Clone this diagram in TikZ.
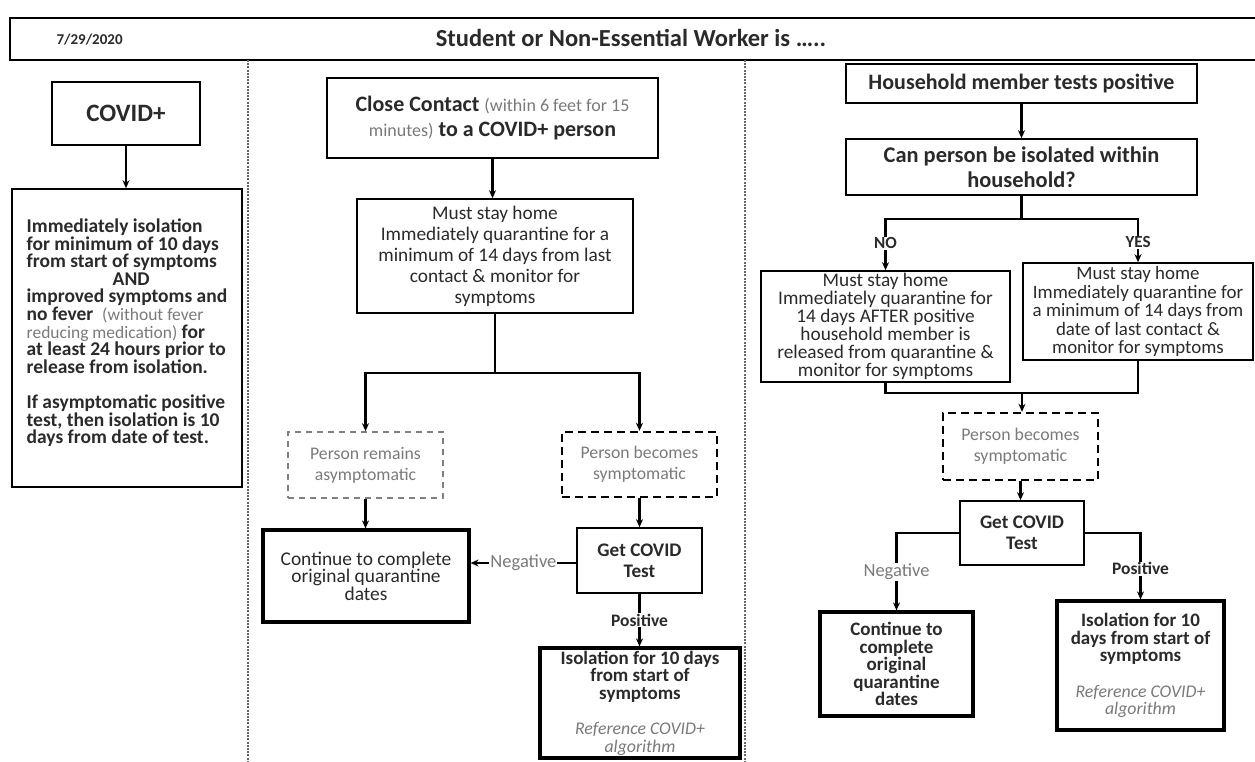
\documentclass[tikz,border=0pt]{standalone}
\usepackage{fontspec}
\setmainfont{Carlito}
\usetikzlibrary{arrows.meta}
\definecolor{txt}{HTML}{2A2A2A}
\definecolor{lgray}{HTML}{7A7A7A}
\begin{document}
\begin{tikzpicture}[x=1pt,y=-1pt,
  box/.style={draw, line width=1.6pt, fill=white, align=center, inner sep=1pt, text=txt},
  thickbox/.style={box, line width=3.2pt},
  dashbox/.style={box, dash pattern=on 8pt off 5pt, line width=2.4pt, text=lgray},
  dashboxlight/.style={box, dash pattern=on 6pt off 5pt, line width=1.6pt, draw=gray, text=lgray},
  arr/.style={-{Stealth[length=8pt,width=7pt]}, line width=2.2pt},
  conn/.style={line width=2.2pt},
  sep/.style={draw=gray!80!black, line width=1.2pt, dash pattern=on 2pt off 1.2pt},
  lab/.style={fill=white, inner sep=1pt},
  fneg/.style={font=\fontsize{18.5}{20}\selectfont, text=lgray},
  fpos/.style={font=\fontsize{17.5}{20}\selectfont\bfseries, text=txt},
]
\useasboundingbox (0,0) rectangle (1255,761);

% header
\node[box, minimum width=1252, minimum height=42] (hdr) at (636,39) {};
\node[text=txt, font=\fontsize{15}{17}\selectfont\bfseries, anchor=west] (date) at (53,40) {7/29/2020};
\node[text=txt, font=\fontsize{24.5}{26}\selectfont\bfseries] (title) at (631,38) {Student or Non-Essential Worker is …..};

% separators
\coordinate (s1t) at (248,60); \coordinate (s1b) at (248,761);
\coordinate (s2t) at (745,60); \coordinate (s2b) at (745,761);
\draw[sep] (s1t) -- (s1b);
\draw[sep] (s2t) -- (s2b);

% left column
\node[box, minimum width=148, minimum height=63, font=\fontsize{25}{27}\selectfont\bfseries] (covid) at (126,113.5) {COVID+};
\node[box, minimum width=230, minimum height=298, align=left, font=\fontsize{19.5}{17.6}\selectfont\bfseries] (iso1) at (127,338) {%
Immediately isolation\\
for minimum of 10 days\\
from start of symptoms\\
\hspace*{86pt}AND\\
improved symptoms and\\
no fever~ {\mdseries\color{lgray}\fontsize{17.5}{17.6}\selectfont(without fever}\\
{\mdseries\color{lgray}\fontsize{17.5}{17.6}\selectfont reducing medication)} for\\
at least 24 hours prior to\\
release from isolation.\\[17.6pt]
If asymptomatic positive\\
test, then isolation is 10\\
days from date of test.\\[-4pt]\mbox{}};
\draw[arr] (covid.south) -- (covid.south |- iso1.north);

% middle column
\node[box, minimum width=331, minimum height=80, font=\fontsize{22}{25}\selectfont\bfseries] (cc) at (492.5,118) {%
Close Contact {\mdseries\color{lgray}\fontsize{18}{25}\selectfont(within 6 feet for 15}\\
{\mdseries\color{lgray}\fontsize{18}{25}\selectfont minutes)} to a COVID+ person};
\node[box, minimum width=276, minimum height=114, font=\fontsize{19.3}{21}\selectfont] (msh) at (495,256) {%
Must stay home\\
Immediately quarantine for a\\
minimum of 14 days from last\\
contact \& monitor for\\
symptoms};
\node[dashboxlight, minimum width=155, minimum height=66, font=\fontsize{17.7}{21}\selectfont] (dash1) at (365.5,465) {Person remains\\asymptomatic};
\node[dashbox, minimum width=155, minimum height=65, font=\fontsize{17.7}{21}\selectfont] (dash2) at (639.5,464.5) {Person becomes\\symptomatic};
\node[thickbox, minimum width=206, minimum height=92, font=\fontsize{19.4}{17.5}\selectfont] (cont1) at (366,576) {Continue to complete\\original quarantine\\dates};
\node[box, minimum width=125, minimum height=65, font=\fontsize{19.2}{21}\selectfont\bfseries] (test1) at (639.5,560.5) {Get COVID\\Test};
\node[thickbox, minimum width=200, minimum height=110, font=\fontsize{19}{17.5}\selectfont\bfseries] (isol1) at (640,703) {%
Isolation for 10 days\\from start of\\symptoms\\[18pt]
{\mdseries\itshape\color{lgray}\fontsize{17.8}{15}\selectfont Reference COVID+}\\
{\mdseries\itshape\color{lgray}\fontsize{17.8}{15}\selectfont algorithm}};

\draw[arr] (cc.south) -- (cc.south |- msh.north);
\draw[arr] (msh.south) -- ++(0,59) -| (dash1.north);
\draw[arr] (msh.south) -- ++(0,59) -| (dash2.north);
\draw[arr] (dash1.south) -- (dash1.south |- cont1.north);
\draw[arr] (dash2.south) -- (dash2.south |- test1.north);
\draw[arr] ([yshift=-2.5pt]test1.west) -- node[lab, fneg] {Negative} ([yshift=-2.5pt]test1.west -| cont1.east);
\draw[arr] (test1.south) -- node[lab, fpos] {Positive} (test1.south |- isol1.north);

% right column
\node[box, minimum width=351, minimum height=39, font=\fontsize{22}{24}\selectfont\bfseries] (hh) at (1021.5,83.5) {Household member tests positive};
\node[box, minimum width=351, minimum height=56, font=\fontsize{22.4}{25}\selectfont\bfseries] (can) at (1021.5,167) {Can person be isolated within\\household?};
\node[box, minimum width=249, minimum height=111, font=\fontsize{19.3}{18}\selectfont] (no) at (885.5,326.5) {%
Must stay home\\
Immediately quarantine for\\
14 days AFTER positive\\
household member is\\
released from quarantine \&\\
monitor for symptoms};
\node[box, minimum width=230, minimum height=97, font=\fontsize{18.9}{18.5}\selectfont] (yes) at (1138,311.5) {%
Must stay home\\
Immediately quarantine for\\
a minimum of 14 days from\\
date of last contact \&\\
monitor for symptoms};
\node[dashbox, minimum width=155, minimum height=67, font=\fontsize{17.8}{21}\selectfont] (dash3) at (1020.5,446.5) {Person becomes\\symptomatic};
\node[box, minimum width=124, minimum height=64, font=\fontsize{19.2}{21}\selectfont\bfseries] (test2) at (1022,533) {Get COVID\\Test};
\node[thickbox, minimum width=153, minimum height=104, font=\fontsize{19}{17.5}\selectfont\bfseries] (cont2) at (896.5,664) {Continue to\\complete\\original\\quarantine\\dates};
\node[thickbox, minimum width=167, minimum height=129, font=\fontsize{19}{17.5}\selectfont\bfseries] (isol2) at (1140.5,665.5) {%
Isolation for 10\\days from start of\\symptoms\\[18pt]
{\mdseries\itshape\color{lgray}\fontsize{17.8}{15}\selectfont Reference COVID+}\\
{\mdseries\itshape\color{lgray}\fontsize{17.8}{15}\selectfont algorithm}};

\draw[arr] (hh.south) -- (hh.south |- can.north);
\draw[arr] (can.south) -- ++(0,23) -| node[pos=0.74, lab, font=\fontsize{17}{19}\selectfont\bfseries, text=txt] {NO} (no.north);
\draw[arr] (can.south) -- ++(0,23) -| node[pos=0.77, lab, font=\fontsize{17}{19}\selectfont\bfseries, text=txt] {YES} (yes.north);
\coordinate (merge) at (1022,393);
\draw[conn] (no.south) |- (merge);
\draw[conn] (yes.south) |- (merge);
\draw[arr] (merge) -- (merge |- dash3.north);
\draw[arr] (dash3.south) -- (dash3.south |- test2.north);
\draw[arr] (test2.west) -| node[pos=0.75, lab, fneg] {Negative} (cont2.north);
\draw[arr] (test2.east) -| node[pos=0.77, lab, fpos] {Positive} (isol2.north);
\end{tikzpicture}
\end{document}
